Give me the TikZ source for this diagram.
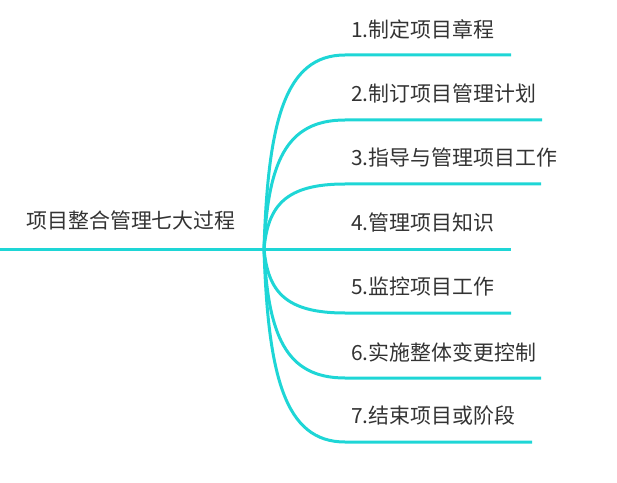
\documentclass[tikz,border=0pt]{standalone}
\usepackage{fontspec}
\setmainfont{Noto Sans CJK SC}
\definecolor{branch}{RGB}{30,214,214}
\definecolor{txt}{RGB}{51,51,51}
\begin{document}
\begin{tikzpicture}[x=1bp,y=-1bp,
  lbl/.style={anchor=west,inner sep=0pt,text=txt,font=\fontsize{21}{25}\selectfont},
  br/.style={draw=branch,line width=3bp}]
\useasboundingbox (0,0) rectangle (617,483);
\coordinate (fork) at (264,249);
\coordinate (rootstart) at (0,249);
\node[lbl,anchor=center] (root) at (131,221) {项目整合管理七大过程};
\draw[br] (rootstart) -- (fork);
\foreach \i/\y/\e/\t in {1/55/511/1.制定项目章程,
                         2/120/542/2.制订项目管理计划,
                         3/184/541/3.指导与管理项目工作,
                         4/249/511/4.管理项目知识,
                         5/313/511/5.监控项目工作,
                         6/378/541/6.实施整体变更控制,
                         7/442/532/7.结束项目或阶段} {
  \coordinate (s\i) at (345,\y);
  \coordinate (e\i) at (\e,\y);
  \node[lbl] (t\i) at (351,\y-26) {\t};
  \pgfmathsetmacro{\cy}{\y+0.34*(249-\y)}
  \draw[br] (fork) .. controls (268,\cy) and (285,\y) .. (s\i) -- (e\i);
}
\end{tikzpicture}
\end{document}
